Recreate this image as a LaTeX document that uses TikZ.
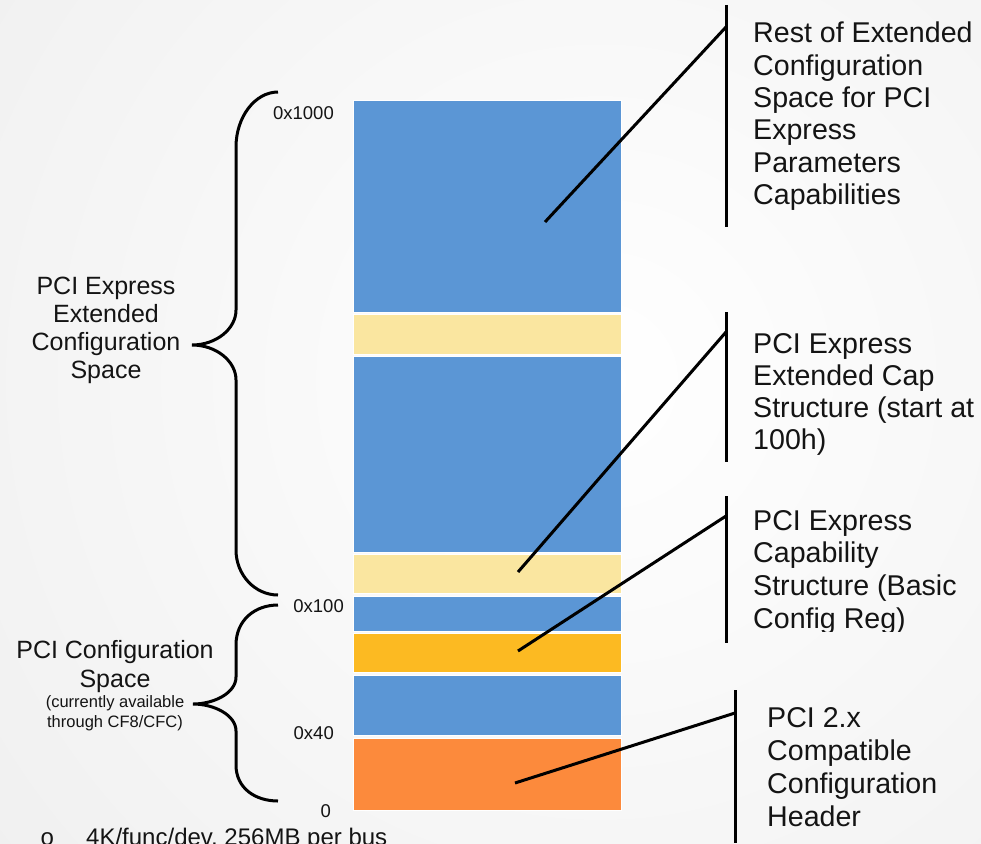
\documentclass[tikz,border=0pt]{standalone}
\usepackage{fontspec}
\setmainfont{Liberation Sans}
\newfontfamily\bulletfont{Liberation Mono}
\definecolor{barblue}{RGB}{91,150,213}
\definecolor{paleyellow}{RGB}{250,230,160}
\definecolor{gold}{RGB}{252,186,34}
\definecolor{hdrorange}{RGB}{252,138,60}
\definecolor{txt}{RGB}{20,20,20}
\begin{document}
\begin{tikzpicture}[x=1pt,y=-1pt,
  bar/.style={draw=white,line width=1pt,minimum width=268pt,inner sep=0pt,outer sep=0pt},
  connector/.style={line width=3pt,draw=black},
  brace/.style={line width=3pt,draw=black},
  rtext/.style={anchor=base west,inner sep=0pt,text=txt},
  ctext/.style={anchor=base,inner sep=0pt,text=txt},
  hexlabel/.style={anchor=base east,inner sep=0pt,text=txt,font=\fontsize{18.5}{22}\selectfont}]
\useasboundingbox (0,0) rectangle (981,843);
\begin{scope}
\clip (0,0) rectangle (981,843);
\shade[inner color=white,outer color=black!11] (600,380) circle (1450);
\end{scope}

% bars
\node[bar,fill=barblue,minimum height=212pt] (b1) at (487,206) {};
\node[bar,fill=paleyellow,minimum height=40pt] (b2) at (487,334) {};
\node[bar,fill=barblue,minimum height=196pt] (b3) at (487,454) {};
\node[bar,fill=paleyellow,minimum height=39pt] (b4) at (487,573.5) {};
\node[bar,fill=barblue,minimum height=35pt] (b5) at (487,613.5) {};
\node[bar,fill=gold,minimum height=39pt] (b6) at (487,652.5) {};
\node[bar,fill=barblue,minimum height=60pt] (b7) at (487,705) {};
\node[bar,fill=hdrorange,minimum height=72pt] (b8) at (487,774) {};

% hex labels
\node[hexlabel] (h1000) at (334,119) {0x1000};
\node[hexlabel] (h100) at (344,612) {0x100};
\node[hexlabel] (h40) at (334,739) {0x40};
\node[hexlabel] (h0) at (331,817) {0};

% braces
\draw[brace] (278,92) .. controls (255,92) and (236,117) .. (236,147)
  -- (236,310) .. controls (236,329) and (216,345) .. (192,345)
  .. controls (216,345) and (236,361) .. (236,380)
  -- (236,550) .. controls (236,575) and (255,595) .. (278,595);
\draw[brace] (278,605) .. controls (255,605) and (236,620) .. (236,645)
  -- (236,677) .. controls (236,693) and (214,704) .. (193,704)
  .. controls (214,704) and (236,715) .. (236,731)
  -- (236,765) .. controls (236,788) and (255,801) .. (278,801);

% left labels
\node[ctext] (lext) at (106,294) {\parbox[t]{200pt}{\centering\fontsize{25}{28}\selectfont PCI Express\\Extended\\Configuration\\Space}};
\node[ctext] (lcfg) at (115,658) {\parbox[t]{230pt}{\centering\fontsize{25}{29}\selectfont PCI Configuration\\Space}};
\node[ctext] (lnote) at (115,707) {\parbox[t]{200pt}{\centering\fontsize{16.5}{20}\selectfont (currently available\\through CF8/CFC)}};

% callout coordinates
\coordinate (p1) at (545,222);
\coordinate (k1) at (726,27);
\coordinate (v1t) at (726,5);
\coordinate (v1b) at (726,227);
\coordinate (p2) at (518,572);
\coordinate (k2) at (726,332);
\coordinate (v2t) at (726,312);
\coordinate (v2b) at (726,462);
\coordinate (p3) at (518,651);
\coordinate (k3) at (726,516);
\coordinate (v3t) at (726,496);
\coordinate (v3b) at (726,643);
\coordinate (p4) at (515,783);
\coordinate (k4) at (735,713);
\coordinate (v4t) at (735,690);
\coordinate (v4b) at (735,843);

\draw[connector] (v1t) -- (v1b);
\draw[connector] (p1) -- (k1);
\draw[connector] (v2t) -- (v2b);
\draw[connector] (p2) -- (k2);
\draw[connector] (v3t) -- (v3b);
\draw[connector] (p3) -- (k3);
\draw[connector] (v4t) -- (v4b);
\draw[connector] (p4) -- (k4);

% right labels
\node[rtext] (r1) at (753,43) {\parbox[t]{300pt}{\raggedright\fontsize{28.6}{32.3}\selectfont Rest of Extended\\Configuration\\Space for PCI\\Express\\Parameters\\Capabilities}};
\node[rtext] (r2) at (753,353) {\parbox[t]{300pt}{\raggedright\fontsize{28.6}{32}\selectfont PCI Express\\Extended Cap\\Structure (start at\\100h)}};
\begin{scope}
\clip (740,480) rectangle (981,631);
\node[rtext] (r3) at (753,530) {\parbox[t]{300pt}{\raggedright\fontsize{28.6}{32.7}\selectfont PCI Express\\Capability\\Structure (Basic\\Config Reg)}};
\end{scope}
\node[rtext] (r4) at (767,727) {\parbox[t]{300pt}{\raggedright\fontsize{28.6}{33.3}\selectfont PCI 2.x\\Compatible\\Configuration\\Header}};

% bottom bullet line
\node[rtext,font=\bulletfont\fontsize{24}{28}\selectfont] (bul) at (40,845) {o};
\node[rtext,font=\fontsize{24}{28}\selectfont] (btxt) at (86,845) {4K/func/dev, 256MB per bus};
\end{tikzpicture}
\end{document}
